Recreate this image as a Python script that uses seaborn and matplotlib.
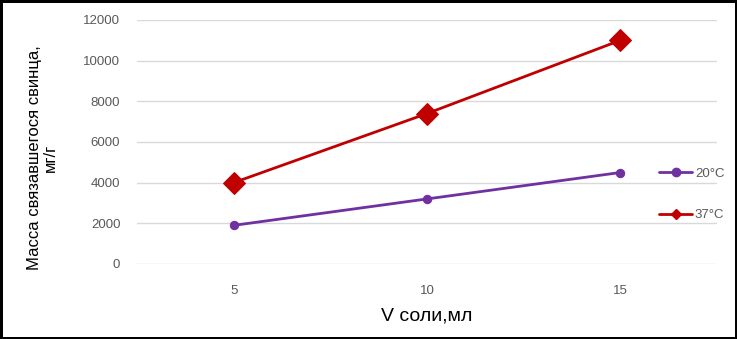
import matplotlib
matplotlib.use('Agg')
import matplotlib.pyplot as plt
from matplotlib.lines import Line2D
import seaborn as sns
import pandas as pd

# ---------------- data ----------------
volume = [5, 10, 15]
lead_20 = [1900, 3200, 4500]
lead_37 = [4000, 7400, 11000]
series_labels = ['20°C', '37°C']
y_ticks = [0, 2000, 4000, 6000, 8000, 10000, 12000]

df = pd.DataFrame({
    'V': volume * 2,
    'mass': lead_20 + lead_37,
    'temp': [series_labels[0]] * 3 + [series_labels[1]] * 3,
})

sns.set_style('white')
plt.rcParams['font.family'] = ['Liberation Sans', 'DejaVu Sans']

purple = '#7030A0'
red = '#C00000'
grey_txt = '#595959'

fig = plt.figure(figsize=(7.37, 3.39), dpi=100, linewidth=2.5, edgecolor='black')
ax = fig.add_axes([137 / 737, 1 - 264 / 339, (717 - 137) / 737, (264 - 20) / 339])

sns.lineplot(data=df[df.temp == series_labels[0]], x='V', y='mass', ax=ax,
             color=purple, lw=2, marker='o', markersize=6, markeredgecolor=purple)
sns.lineplot(data=df[df.temp == series_labels[1]], x='V', y='mass', ax=ax,
             color=red, lw=2, marker='D', markersize=11, markeredgecolor=red)

ax.set_xlim(2.5, 17.5)
ax.set_ylim(0, 12000)
ax.set_xticks(volume)
ax.set_yticks(y_ticks)
ax.set_xticklabels([str(v) for v in volume])
ax.set_yticklabels([str(v) for v in y_ticks])
ax.tick_params(axis='both', length=0, labelsize=9.5, colors=grey_txt)
ax.tick_params(axis='x', pad=15)
ax.tick_params(axis='y', pad=12)
ax.grid(axis='y', color='#D9D9D9', lw=1)
ax.set_axisbelow(True)
for s in ax.spines.values():
    s.set_visible(False)

ax.set_xlabel('V соли,мл', fontsize=14, color='black', labelpad=8)
ax.set_ylabel('Масса связавшегося свинца,\nмг/г', fontsize=12, color='black',
              linespacing=1.1)
ax.yaxis.set_label_coords(-0.136, 0.434)

handles = [
    Line2D([], [], color=purple, lw=2, marker='o', markersize=6),
    Line2D([], [], color=red, lw=2, marker='D', markersize=5),
]
leg = ax.legend(handles, series_labels, loc='center left', bbox_to_anchor=(0.88, 0.285),
                frameon=False, fontsize=9.5, labelspacing=2.2, handlelength=2.5,
                handletextpad=0.2)
for t in leg.get_texts():
    t.set_color(grey_txt)

plt.savefig('out.png', dpi=100)
